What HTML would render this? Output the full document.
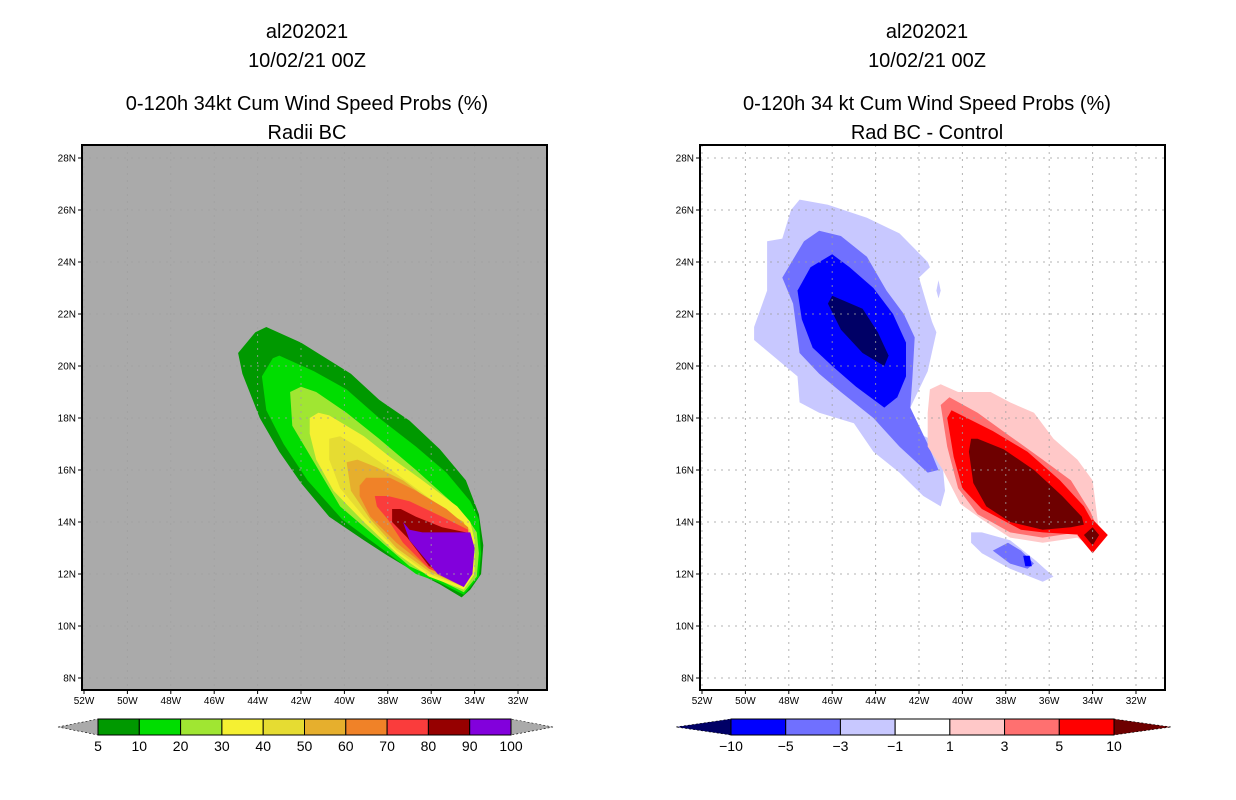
<!DOCTYPE html>
<html><head><meta charset="utf-8">
<style>
body{margin:0;background:#fff;}
svg{display:block;font-family:"Liberation Sans","DejaVu Sans",sans-serif;}
</style></head>
<body>
<svg id="chart" width="1236" height="800" viewBox="0 0 1236 800" xmlns="http://www.w3.org/2000/svg">
<g font-size="20" text-anchor="middle" fill="#000">
<text x="307" y="38">al202021</text>
<text x="307" y="67">10/02/21 00Z</text>
<text x="307" y="110">0-120h 34kt Cum Wind Speed Probs (%)</text>
<text x="307" y="139">Radii BC</text>
</g>
<g font-size="20" text-anchor="middle" fill="#000">
<text x="927" y="38">al202021</text>
<text x="927" y="67">10/02/21 00Z</text>
<text x="927" y="110">0-120h 34 kt Cum Wind Speed Probs (%)</text>
<text x="927" y="139">Rad BC - Control</text>
</g>
<g id="leftPanel"></g>
<g id="rightPanel"></g>
<g id="leftBar"></g>
<g id="rightBar"></g>
</svg>
<script>
const latTicks=[28,26,24,22,20,18,16,14,12,10,8];
const lonTicks=[52,50,48,46,44,42,40,38,36,34,32];
const probLevels=[5,10,20,30,40,50,60,70,80,90];
const probColors=["#009900","#00dd00","#a0e632","#f5f032","#e6dc32","#e6af2d","#f08228","#fa3c3c","#960000","#8200dc"];
const probLon=[
[44.9,44.1,43.6,42.0,39.7,38.4,37.0,35.6,34.4,33.8,33.6,33.7,34.2,34.6,35.6,37.0,38.0,39.1,40.7,42.0,43.0,43.9,44.7],
[43.8,43.3,43.0,41.4,39.9,38.4,36.7,35.3,34.2,33.8,33.7,33.8,34.5,35.7,36.7,38.0,40.1,41.7,42.8,43.6],
[42.5,42.0,41.3,39.9,38.4,36.7,35.1,34.3,33.9,33.8,33.9,34.5,35.7,37.0,38.8,40.2,41.4,42.4],
[41.6,41.2,40.7,39.1,37.9,36.4,34.8,34.2,34.0,34.0,34.5,36.1,37.6,39.1,40.5,41.3,41.6],
[40.7,40.2,39.4,38.0,36.7,35.1,34.2,34.1,34.5,36.1,37.6,39.1,40.2,40.7],
[39.9,39.4,38.5,37.3,35.7,34.5,34.1,34.5,36.1,37.6,38.8,39.7],
[39.3,39.0,37.9,36.7,35.3,34.3,34.2,34.5,36.1,37.6,38.8,39.3],
[38.6,38.0,37.0,35.5,34.3,34.3,34.5,36.1,37.3,38.0,38.5],
[37.8,37.4,36.7,35.5,34.4,34.3,34.5,36.1,37.1,37.8],
[37.3,37.0,36.4,34.2,34.0,34.1,34.5,35.7,37.0]];
const probLat=[
[20.5,21.3,21.5,20.9,19.7,18.7,17.9,16.8,15.6,14.3,13.1,12.0,11.4,11.1,11.6,12.2,12.7,13.3,14.2,15.5,16.7,18.0,19.7],
[19.6,20.3,20.4,19.8,19.1,18.0,16.9,15.9,14.8,14.1,12.8,11.9,11.2,11.7,12.0,12.8,14.1,15.6,17.0,18.3],
[19.0,19.2,19.0,18.2,17.2,16.0,14.8,14.1,13.6,12.8,11.9,11.3,11.8,12.3,13.6,14.6,16.3,17.7],
[18.0,18.2,18.1,17.3,16.5,15.6,14.6,14.0,13.3,12.0,11.4,11.9,12.8,14.0,15.2,16.4,17.4],
[17.2,17.3,16.9,16.1,15.3,14.3,13.7,12.0,11.5,12.0,12.9,14.2,15.3,16.4],
[16.3,16.4,16.1,15.6,14.6,14.0,12.8,11.5,12.1,13.0,14.1,15.2],
[15.4,15.7,15.7,15.2,14.5,13.8,12.8,11.6,12.2,13.2,14.2,15.0],
[15.0,15.0,14.8,14.2,13.7,12.8,11.7,12.2,13.2,14.1,14.6],
[14.5,14.5,14.2,13.8,13.6,12.8,11.7,12.3,13.4,14.0],
[14.0,13.7,13.6,13.6,13.0,12.0,11.5,12.0,13.3]];
const diffColors=["#c8c8ff","#7070ff","#0000ff","#000066","#ffc8c8","#ff7070","#ff0000","#6e0000","#ff0000","#6e0000","#c8c8ff","#7070ff","#0000ff","#c8c8ff"];
const diffLon=[
[47.5,46.2,44.4,42.9,41.6,41.5,42.0,41.4,41.2,41.6,42.4,42.0,41.0,40.8,41.0,41.8,42.9,44.1,45.0,46.6,47.5,47.6,49.6,49.6,49.0,49.0,48.3,47.9],
[46.6,45.6,44.4,43.5,42.7,42.2,42.3,42.4,41.6,41.1,41.6,42.9,44.1,45.6,46.6,47.5,47.8,48.3,47.3],
[46.0,45.2,44.1,43.2,42.6,42.6,43.0,43.6,44.9,46.0,46.9,47.4,47.6,47.0],
[46.0,44.6,43.9,43.4,43.6,44.6,45.6,46.2],
[41.5,41.0,40.2,38.7,37.8,36.7,35.8,34.7,34.0,33.7,34.0,34.7,36.3,37.8,39.1,40.1,40.9,41.6,41.6],
[41.0,40.6,39.3,37.8,36.3,35.0,34.1,33.7,34.0,34.7,36.3,37.8,39.3,40.2,40.7],
[40.7,40.5,38.6,37.0,35.5,34.4,34.0,33.7,34.0,34.4,36.3,37.3,39.1,40.0,40.4],
[39.6,39.3,38.1,36.7,35.4,34.5,34.4,35.0,36.3,37.8,38.9,39.5,39.7],
[34.7,34.0,33.3,34.0],
[34.4,34.0,33.7,34.0],
[39.6,39.1,37.8,36.6,35.8,36.3,37.8,39.1,39.6],
[38.6,37.9,37.3,36.7,37.0,37.8],
[37.2,36.9,36.8,37.1],
[41.1,41.0,41.1,41.2]];
const diffLat=[
[26.4,26.2,25.7,25.1,24.0,23.8,23.4,21.7,21.3,19.8,18.4,17.4,17.0,15.2,14.6,15.0,15.9,16.7,17.8,18.2,18.6,19.6,21.0,21.5,22.9,24.8,24.9,26.0],
[25.2,25.0,24.2,22.9,22.0,21.1,19.6,18.4,17.0,16.0,15.9,16.9,18.0,19.0,19.7,20.5,22.4,23.4,24.8],
[24.3,23.8,23.0,22.0,20.9,19.6,18.8,18.4,19.2,20.0,20.7,21.8,22.9,23.8],
[22.7,22.2,21.3,20.4,20.0,20.5,21.4,22.4],
[19.1,19.3,19.0,19.0,18.6,18.2,17.2,16.4,15.6,13.6,13.0,13.4,13.2,13.4,14.1,14.7,16.0,16.9,18.2],
[18.5,18.8,18.2,17.3,16.4,15.6,14.4,13.6,13.0,13.6,13.4,13.6,14.3,15.3,16.9],
[18.0,18.3,17.5,16.7,15.6,14.6,14.0,13.5,13.0,13.5,13.6,13.7,14.5,15.3,16.5],
[17.2,17.2,16.8,16.0,15.0,14.2,13.9,13.8,13.7,14.0,14.6,15.5,16.7],
[13.5,14.1,13.5,12.8],
[13.5,13.8,13.5,13.1],
[13.6,13.6,13.3,12.5,11.9,11.7,12.2,12.8,13.2],
[12.9,13.2,12.9,12.4,12.2,12.4],
[12.7,12.7,12.3,12.3],
[23.3,22.9,22.6,22.9]];
const probLabels=["5","10","20","30","40","50","60","70","80","90","100"];
const diffBarColors=["#0000ff","#7070ff","#c8c8ff","#ffffff","#ffc8c8","#ff7070","#ff0000"];
const diffLabels=["\u221210","\u22125","\u22123","\u22121","1","3","5","10"];

const NS="http://www.w3.org/2000/svg";
function mk(tag,attrs,parent){const e=document.createElementNS(NS,tag);for(const k in attrs)e.setAttribute(k,attrs[k]);parent.appendChild(e);return e;}

function drawPanel(g,x0,bg,lons,lats,colors,names){
  const xs=lon=>x0+2+(52-lon)*21.7;
  const ys=lat=>158+(28-lat)*26;
  const clipId="clip"+x0;
  const cp=mk("clipPath",{id:clipId},g);
  mk("rect",{x:x0,y:145,width:465,height:545},cp);
  const bgr=mk("rect",{x:x0,y:145,width:465,height:545,fill:bg},g);
  
  
  const cg=mk("g",{"clip-path":"url(#"+clipId+")"},g);
  for(let i=0;i<lons.length;i++){
    const pts=lons[i].map((lo,j)=>xs(lo).toFixed(1)+","+ys(lats[i][j]).toFixed(1)).join(" ");
    const p=mk("polygon",{points:pts,fill:colors[i]},cg);
    
    
  }
  for(const lo of lonTicks){const x=xs(lo);const l=mk("line",{x1:x,y1:145,x2:x,y2:690,stroke:"#a0a0a0","stroke-dasharray":"2,5","stroke-opacity":0.8},cg);
    }
  for(const la of latTicks){const y=ys(la);const l=mk("line",{x1:x0,y1:y,x2:x0+465,y2:y,stroke:"#a0a0a0","stroke-dasharray":"2,5","stroke-opacity":0.8},cg);
    }
  const fr=mk("rect",{x:x0,y:145,width:465,height:545,fill:"none",stroke:"#000","stroke-width":2},g);
  
  
  for(const la of latTicks){const y=ys(la);
    mk("line",{x1:x0-4,y1:y,x2:x0,y2:y,stroke:"#000"},g);
    const t=mk("text",{x:x0-6,y:y+3.5,"font-size":10,"text-anchor":"end"},g);t.textContent=la+"N";
    }
  for(const lo of lonTicks){const x=xs(lo);
    mk("line",{x1:x,y1:690,x2:x,y2:694,stroke:"#000"},g);
    const t=mk("text",{x:x,y:704,"font-size":10,"text-anchor":"middle"},g);t.textContent=lo+"W";
    }
}
drawPanel(document.getElementById("leftPanel"),82,"#aaaaaa",probLon,probLat,probColors,probLevels.map(v=>"contour-"+v+"pct"));
drawPanel(document.getElementById("rightPanel"),700,"#ffffff",diffLon,diffLat,diffColors,diffColors.map((c,i)=>"diff-contour-"+i));

function drawBar(g,x0,x1,tipL,tipR,colors,labels,lc,rc){
  const n=colors.length,w=(x1-x0)/n;
  const a=mk("polygon",{points:`${tipL},727 ${x0},719 ${x0},735`,fill:lc,stroke:"#000","stroke-dasharray":"2,2","stroke-width":0.6},g);
  
  const b=mk("polygon",{points:`${tipR},727 ${x1},719 ${x1},735`,fill:rc,stroke:"#000","stroke-dasharray":"2,2","stroke-width":0.6},g);
  
  for(let i=0;i<n;i++){const r=mk("rect",{x:x0+i*w,y:719,width:w,height:16,fill:colors[i],stroke:"#000","stroke-width":1},g);
    }
  for(let i=0;i<labels.length;i++){const t=mk("text",{x:x0+i*w,y:751,"font-size":14,"text-anchor":"middle"},g);t.textContent=labels[i];
    }
}
drawBar(document.getElementById("leftBar"),98,511,58,553,probColors,probLabels,"#aaaaaa","#aaaaaa");
drawBar(document.getElementById("rightBar"),731,1114,676,1171,diffBarColors,diffLabels,"#000066","#6e0000");
</script>
</body></html>
